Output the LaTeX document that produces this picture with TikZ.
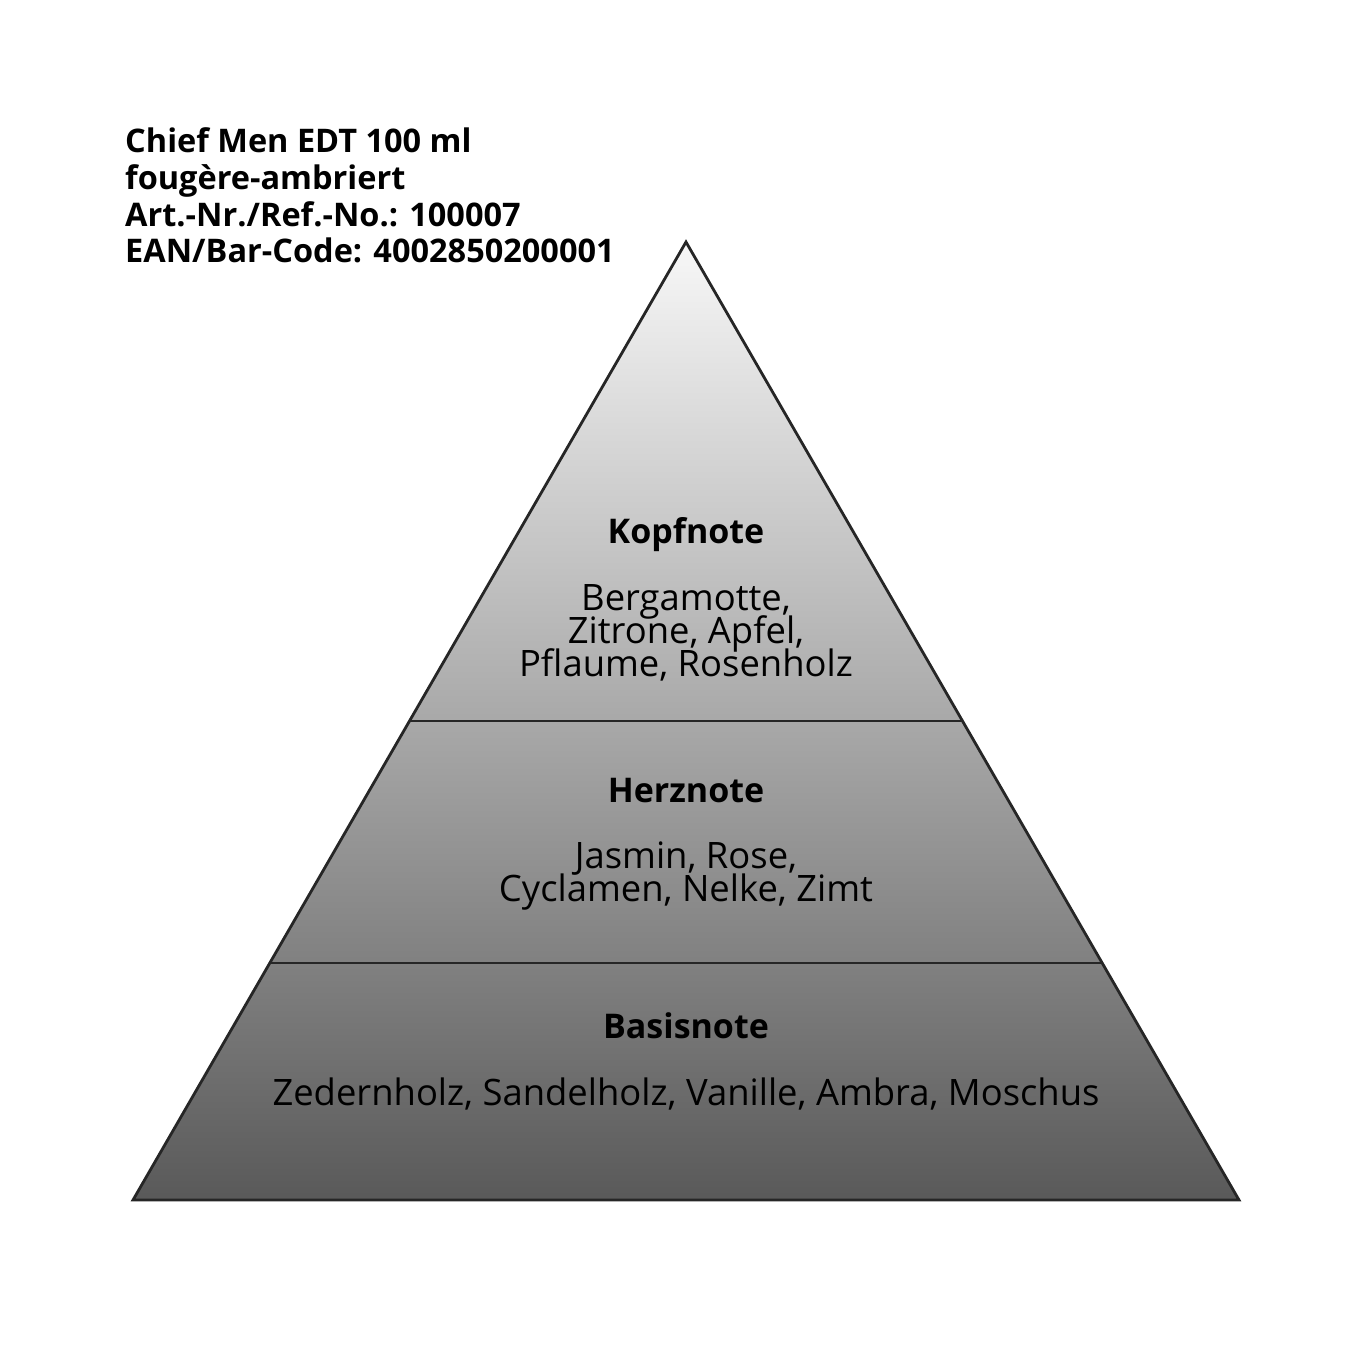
\documentclass[tikz,border=0pt]{standalone}
\usepackage{fontspec}
\setmainfont{Open Sans}
\usetikzlibrary{calc}
\begin{document}
\begin{tikzpicture}[x=1pt,y=-1pt,
  header/.style={anchor=base west,inner sep=0pt,font=\fontsize{32.5}{37}\selectfont\bfseries},
  title/.style={anchor=base,inner sep=0pt,font=\fontsize{34}{40}\selectfont\bfseries},
  body/.style={anchor=base,inner sep=0pt,font=\fontsize{36.4}{40}\selectfont},
  edge/.style={line width=2.8pt,black!85,line join=miter}]
\useasboundingbox (0,0) rectangle (1371,1371);
\coordinate (apex) at (686,242);
\coordinate (bl) at (133,1200);
\coordinate (br) at (1239,1200);
\shade[top color=white!97!black,bottom color=black!65] (apex) -- (bl) -- (br) -- cycle;
\coordinate (l1) at ($(apex)!0.5!(bl)$);
\coordinate (r1) at ($(apex)!0.5!(br)$);
\coordinate (l2) at ($(apex)!0.7526!(bl)$);
\coordinate (r2) at ($(apex)!0.7526!(br)$);
\draw[edge] (apex) -- (bl) -- (br) -- cycle;
\draw[edge] (l1) -- (r1);
\draw[edge] (l2) -- (r2);
\node[header] (h1) at (125,152) {Chief Men EDT 100 ml};
\node[header] (h2) at (125,189) {fougère-ambriert};
\node[header] (h3) at (125,226) {Art.-Nr./Ref.-No.: 100007};
\node[header] (h4) at (125,262) {EAN/Bar-Code: 4002850200001};
\node[title] (kopf) at (686,543) {Kopfnote};
\node[body] (k1) at (686,610) {Bergamotte,};
\node[body] (k2) at (686,643) {Zitrone, Apfel,};
\node[body] (k3) at (686,676) {Pflaume, Rosenholz};
\node[title] (herz) at (686,802) {Herznote};
\node[body] (z1) at (686,868) {Jasmin, Rose,};
\node[body] (z2) at (686,901) {Cyclamen, Nelke, Zimt};
\node[title] (basis) at (686,1038) {Basisnote};
\node[body] (b1) at (686,1105) {Zedernholz, Sandelholz, Vanille, Ambra, Moschus};
\end{tikzpicture}
\end{document}
